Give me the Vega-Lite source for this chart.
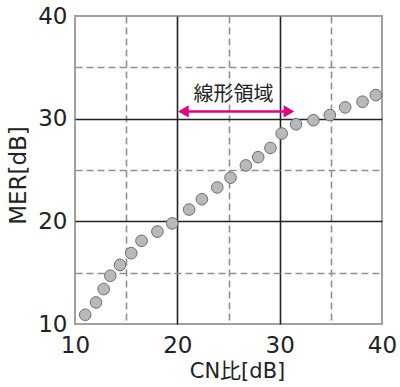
{
  "$schema": "https://vega.github.io/schema/vega-lite/v6.json",
  "width": 307,
  "height": 308,
  "autosize": "none",
  "padding": {"left": 75, "top": 16, "right": 18, "bottom": 63},
  "background": "white",
  "config": {
    "view": {"stroke": "#a0a0a0", "strokeWidth": 2},
    "font": "DejaVu Sans, Noto Sans CJK JP"
  },
  "datasets": {
    "points": [
      {"cn": 11.0, "mer": 10.9},
      {"cn": 12.05, "mer": 12.1},
      {"cn": 12.8, "mer": 13.4},
      {"cn": 13.45, "mer": 14.7},
      {"cn": 14.4, "mer": 15.75},
      {"cn": 15.5, "mer": 16.9},
      {"cn": 16.5, "mer": 18.1},
      {"cn": 18.05, "mer": 19.0},
      {"cn": 19.5, "mer": 19.8},
      {"cn": 21.15, "mer": 21.15},
      {"cn": 22.4, "mer": 22.15},
      {"cn": 23.9, "mer": 23.3},
      {"cn": 25.2, "mer": 24.25},
      {"cn": 26.7, "mer": 25.45},
      {"cn": 27.9, "mer": 26.25},
      {"cn": 29.1, "mer": 27.15},
      {"cn": 30.2, "mer": 28.55},
      {"cn": 31.6, "mer": 29.45},
      {"cn": 33.3, "mer": 29.85},
      {"cn": 34.9, "mer": 30.35},
      {"cn": 36.4, "mer": 31.1},
      {"cn": 38.1, "mer": 31.65},
      {"cn": 39.4, "mer": 32.3}
    ],
    "arrow": [{"x1": 20.3, "x2": 31.2, "y": 30.7}],
    "heads": [
      {"x": 20.6, "y": 30.7, "end": "left"},
      {"x": 30.9, "y": 30.7, "end": "right"}
    ],
    "label": [{"x": 25.5, "y": 32.35, "text": "線形領域"}]
  },
  "encoding": {
    "x": {
      "type": "quantitative",
      "scale": {"domain": [10, 40], "nice": false, "zero": false},
      "axis": {
        "values": [10, 15, 20, 25, 30, 35, 40],
        "labelExpr": "datum.value % 10 === 0 ? datum.label : ''",
        "labelFlush": false,
        "labelOverlap": false,
        "ticks": false,
        "domain": false,
        "grid": true,
        "gridColor": {"condition": {"test": "datum.value === 20 || datum.value === 30", "value": "#222222"}, "value": "#909090"},
        "gridDash": {"condition": {"test": "datum.value === 20 || datum.value === 30", "value": []}, "value": [7, 4]},
        "gridOpacity": {"condition": {"test": "datum.value === 10 || datum.value === 40", "value": 0}, "value": 1},
        "gridWidth": 1.6,
        "labelFont": "DejaVu Sans",
        "labelFontSize": 23,
        "labelColor": "#222222",
        "labelPadding": 10,
        "title": "CN比[dB]",
        "titleFont": "DejaVu Sans, Noto Sans CJK JP",
        "titleFontSize": 21,
        "titleFontWeight": "normal",
        "titleColor": "#222222",
        "titlePadding": 3,
        "titleX": 162
      }
    },
    "y": {
      "type": "quantitative",
      "scale": {"domain": [10, 40], "nice": false, "zero": false},
      "axis": {
        "values": [10, 15, 20, 25, 30, 35, 40],
        "labelExpr": "datum.value % 10 === 0 ? datum.label : ''",
        "labelFlush": false,
        "labelOverlap": false,
        "ticks": false,
        "domain": false,
        "grid": true,
        "gridColor": {"condition": {"test": "datum.value === 20 || datum.value === 30", "value": "#222222"}, "value": "#909090"},
        "gridDash": {"condition": {"test": "datum.value === 20 || datum.value === 30", "value": []}, "value": [7, 4]},
        "gridOpacity": {"condition": {"test": "datum.value === 10 || datum.value === 40", "value": 0}, "value": 1},
        "gridWidth": 1.6,
        "labelFont": "DejaVu Sans",
        "labelFontSize": 23,
        "labelColor": "#222222",
        "labelPadding": 8,
        "title": "MER[dB]",
        "titleFont": "DejaVu Sans",
        "titleFontSize": 23,
        "titleFontWeight": "normal",
        "titleColor": "#222222",
        "titlePadding": 7,
        "titleY": 159
      }
    }
  },
  "layer": [
    {
      "data": {"name": "points"},
      "mark": {"type": "point", "shape": "circle", "filled": true, "fill": "#b9b9bd", "stroke": "#6e6e6e", "strokeWidth": 1, "size": 135, "opacity": 1},
      "encoding": {
        "x": {"field": "cn", "type": "quantitative", "title": "CN比[dB]"},
        "y": {"field": "mer", "type": "quantitative", "title": "MER[dB]"}
      }
    },
    {
      "data": {"name": "arrow"},
      "mark": {"type": "rule", "color": "#e4007f", "strokeWidth": 2.5},
      "encoding": {
        "x": {"field": "x1", "type": "quantitative"},
        "x2": {"field": "x2"},
        "y": {"field": "y", "type": "quantitative"}
      }
    },
    {
      "data": {"name": "heads"},
      "transform": [{"filter": "datum.end === 'left'"}],
      "mark": {"type": "point", "shape": "triangle-left", "filled": true, "color": "#e4007f", "size": 150, "opacity": 1},
      "encoding": {
        "x": {"field": "x", "type": "quantitative"},
        "y": {"field": "y", "type": "quantitative"}
      }
    },
    {
      "data": {"name": "heads"},
      "transform": [{"filter": "datum.end === 'right'"}],
      "mark": {"type": "point", "shape": "triangle-right", "filled": true, "color": "#e4007f", "size": 150, "opacity": 1},
      "encoding": {
        "x": {"field": "x", "type": "quantitative"},
        "y": {"field": "y", "type": "quantitative"}
      }
    },
    {
      "data": {"name": "label"},
      "mark": {"type": "text", "fontSize": 20, "color": "#222222", "font": "Noto Sans CJK JP"},
      "encoding": {
        "x": {"field": "x", "type": "quantitative"},
        "y": {"field": "y", "type": "quantitative"},
        "text": {"field": "text"}
      }
    }
  ]
}
